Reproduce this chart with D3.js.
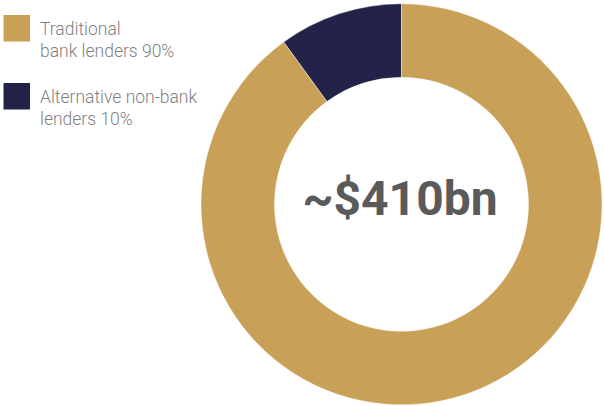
<!DOCTYPE html>
<html>
<head>
<meta charset="utf-8">
<script src="https://cdn.jsdelivr.net/npm/d3@7"></script>
<style>
  html, body { margin: 0; padding: 0; background: #fff; }
  svg { display: block; }
</style>
</head>
<body>
<svg id="chart" width="604" height="406"></svg>
<script>
// Market share of lending, by lender type
const categories = ["Alternative non-bank lenders", "Traditional bank lenders"];
const shares = [10, 90];
const colors = ["#23234a", "#c9a057"];
const legendLines = [
  ["Traditional", "bank lenders 90%"],
  ["Alternative non-bank", "lenders 10%"]
];
const legendColors = ["#c9a057", "#23234a"];
const totalLabel = "~$410bn";

const svg = d3.select("#chart");
const cx = 401.5, cy = 204.3;
const outerR = 200.5, innerR = 127;

const data = categories.map((c, i) => ({ name: c, value: shares[i] }));

// Start at 12 o'clock, running counter-clockwise so the small slice sits top-left
const pie = d3.pie()
  .value(d => d.value)
  .sort(null)
  .startAngle(0)
  .endAngle(-2 * Math.PI);

const arc = d3.arc().innerRadius(innerR).outerRadius(outerR);

const g = svg.append("g").attr("transform", `translate(${cx},${cy})`);
g.selectAll("path")
  .data(pie(data))
  .join("path")
  .attr("d", arc)
  .attr("fill", (d, i) => colors[i])
  .attr("stroke", "#fff")
  .attr("stroke-width", 0.4);

g.append("text")
  .attr("x", -1.5)
  .attr("y", 10.7)
  .attr("text-anchor", "middle")
  .attr("font-family", "Roboto, sans-serif")
  .attr("font-weight", 700)
  .attr("font-size", 48)
  .attr("fill", "#5a5a5a")
  .text(totalLabel);

// Legend
const legend = svg.append("g");
const rowY = [15, 83];
legendLines.forEach((lines, i) => {
  const row = legend.append("g").attr("transform", `translate(3.5,${rowY[i]})`);
  row.append("rect")
    .attr("width", 26.5)
    .attr("height", 26.5)
    .attr("fill", legendColors[i]);
  const t = row.append("text")
    .attr("font-family", "Roboto, sans-serif")
    .attr("font-weight", 300)
    .attr("font-size", 17.5)
    .attr("fill", "#7f7f7f");
  lines.forEach((ln, j) => {
    t.append("tspan")
      .attr("x", 36.5)
      .attr("y", 19.5 + j * 22.5)
      .text(ln);
  });
});
</script>
</body>
</html>
